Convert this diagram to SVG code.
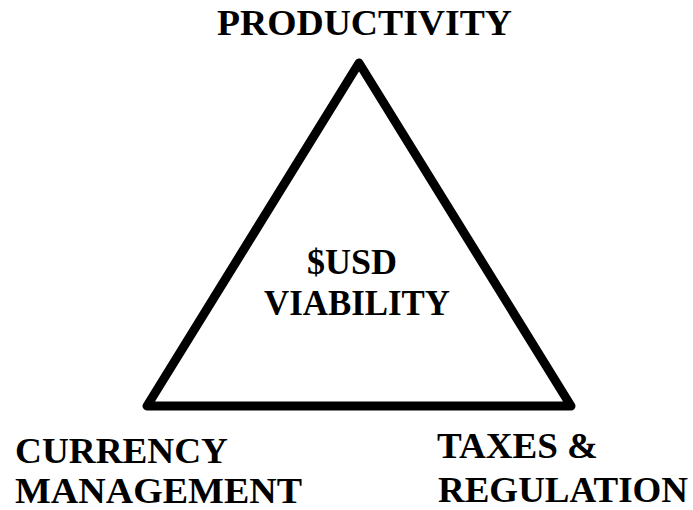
<svg xmlns="http://www.w3.org/2000/svg" width="693" height="510" viewBox="0 0 693 510">
  <style>
    .lbl { font-family: "Liberation Serif", "Times New Roman", serif; font-weight: bold; font-size: 35px; fill: #000; }
    .edge { fill: none; stroke: #000; stroke-width: 9; stroke-linejoin: round; }
  </style>
  <rect width="693" height="510" fill="#fff"/>
  <g id="connectors">
    <polygon class="edge" points="359,63 147,406 571,406"/>
  </g>
  <g id="productivity">
    <text class="lbl" x="217" y="35" textLength="295" lengthAdjust="spacingAndGlyphs">PRODUCTIVITY</text>
  </g>
  <g id="usd-viability">
    <text class="lbl" x="307" y="274" textLength="90" lengthAdjust="spacingAndGlyphs">$USD</text>
    <text class="lbl" x="264" y="315" textLength="186" lengthAdjust="spacingAndGlyphs">VIABILITY</text>
  </g>
  <g id="currency-management">
    <text class="lbl" x="15" y="463" textLength="213" lengthAdjust="spacingAndGlyphs">CURRENCY</text>
    <text class="lbl" x="15" y="503" textLength="287" lengthAdjust="spacingAndGlyphs">MANAGEMENT</text>
  </g>
  <g id="taxes-regulation">
    <text class="lbl" x="437" y="458" textLength="161" lengthAdjust="spacingAndGlyphs">TAXES &amp;</text>
    <text class="lbl" x="438" y="502" textLength="250" lengthAdjust="spacingAndGlyphs">REGULATION</text>
  </g>
</svg>
